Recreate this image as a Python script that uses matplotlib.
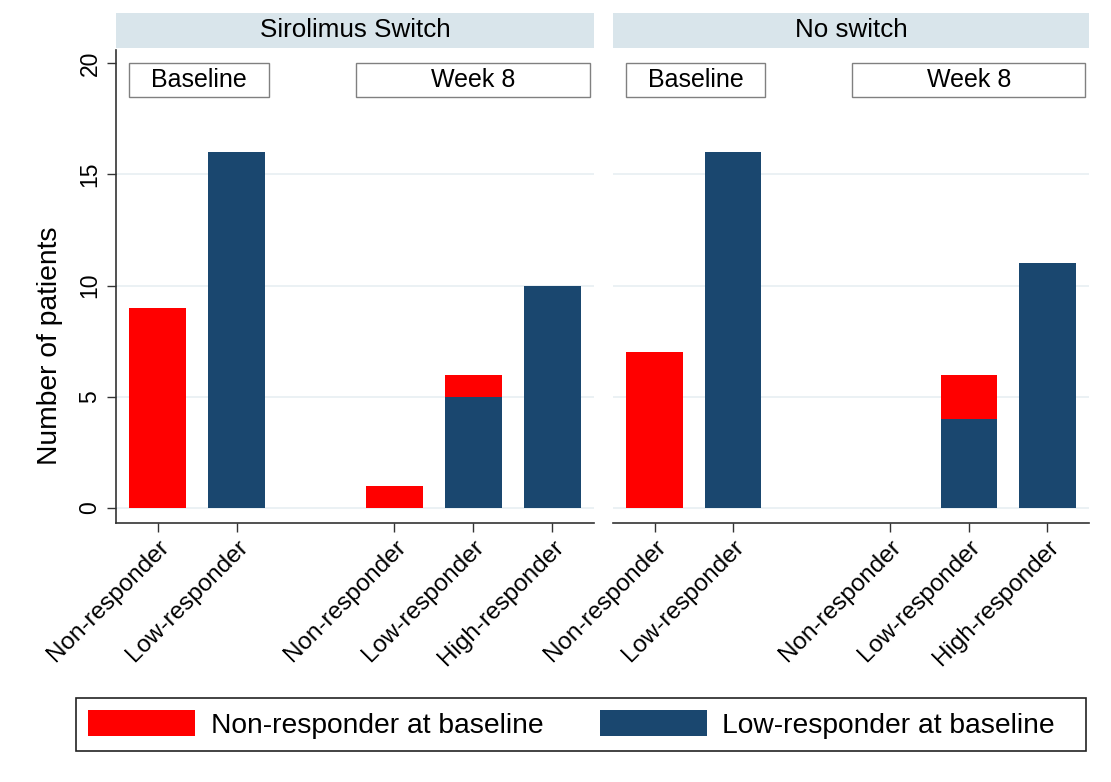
import matplotlib
matplotlib.use('Agg')
import matplotlib.pyplot as plt
from matplotlib.patches import Rectangle, Patch
import numpy as np

plt.rcParams['font.family'] = ['Liberation Sans', 'DejaVu Sans']

# data
panels = ['Sirolimus Switch', 'No switch']
categories = ['Non-responder', 'Low-responder', 'Non-responder', 'Low-responder', 'High-responder']
positions = [0, 1, 3, 4, 5]
groups = ['Baseline', 'Week 8']
group_centers = [0.52, 4.0]
group_widths = [1.77, 2.97]
series_names = ['Non-responder at baseline', 'Low-responder at baseline']
nonresp_base = {'Sirolimus Switch': [9, 0, 1, 1, 0],
                'No switch': [7, 0, 0, 2, 0]}
lowresp_base = {'Sirolimus Switch': [0, 16, 0, 5, 10],
                'No switch': [0, 16, 0, 4, 11]}
yticks = [0, 5, 10, 15, 20]

red = '#ff0000'
navy = '#1a476f'
strip = '#d9e5eb'
grid = '#e8eff2'

fig = plt.figure(figsize=(11.11, 7.82), dpi=100)
W, H = 1111.0, 782.0
axes = [fig.add_axes([116/W, 1-523/H, 478/W, 473/H]),
        fig.add_axes([613/W, 1-523/H, 476/W, 473/H])]

for i, (ax, name) in enumerate(zip(axes, panels)):
    blue = np.array(lowresp_base[name])
    redv = np.array(nonresp_base[name])
    ax.bar(positions, blue, width=0.72, color=navy, zorder=3)
    ax.bar(positions, redv, width=0.72, bottom=blue, color=red, zorder=3)
    ax.set_xlim(-0.53, 5.53)
    ax.set_ylim(-0.68, 20.6)
    ax.set_yticks(yticks)
    for y in yticks[:-1]:
        ax.axhline(y, color=grid, lw=1.2, zorder=1)
    ax.set_xticks(positions)
    ax.set_xticklabels(categories, rotation=45, ha='right', va='top',
                       rotation_mode='anchor', fontsize=17.5)
    ax.tick_params(axis='x', length=6.5, width=1, color='#333333', pad=3)
    for s in ['top', 'right']:
        ax.spines[s].set_visible(False)
    ax.spines['bottom'].set_color('#333333')
    ax.spines['bottom'].set_linewidth(1.2)
    if i == 0:
        ax.spines['left'].set_color('#333333')
        ax.spines['left'].set_linewidth(1.2)
        ax.tick_params(axis='y', length=6.5, width=1, color='#333333', pad=4,
                       labelsize=16.5)
        for t in ax.get_yticklabels():
            t.set_rotation(90)
            t.set_va('center')
    else:
        ax.spines['left'].set_visible(False)
        ax.tick_params(axis='y', left=False, labelleft=False)

    # panel header strip
    ax.add_patch(Rectangle((0, 1.004), 1.0, 0.074, transform=ax.transAxes,
                           facecolor=strip, edgecolor='none', clip_on=False))
    ax.text(0.5, 1.042, name, transform=ax.transAxes, ha='center', va='center',
            fontsize=18.7)

    # group label boxes
    for g, c, w in zip(groups, group_centers, group_widths):
        ax.add_patch(Rectangle((c - w/2, 18.5), w, 1.5, facecolor='white',
                               edgecolor='#808080', lw=1, zorder=4, clip_on=False))
        ax.text(c, 19.25, g, ha='center', va='center', fontsize=18, zorder=5)

fig.text(50/W, 1-346/H, 'Number of patients', rotation=90, ha='center',
         va='center', fontsize=20.3)

# legend
fig.patches.append(Rectangle((76/W, 1-751/H), 1010/W, 53/H, transform=fig.transFigure,
                             facecolor='white', edgecolor='#222222', lw=1.2))
handles = [Patch(facecolor=red, edgecolor='none'),
           Patch(facecolor=navy, edgecolor='none')]
leg = fig.legend(handles, series_names, loc='center',
                 bbox_to_anchor=(571.5/W, 1-724.5/H), ncol=2, fontsize=20.3,
                 frameon=False, handlelength=3.8, handleheight=1.05,
                 handletextpad=0.55, columnspacing=2.0, borderpad=0.3)

plt.savefig('out.png', dpi=100)
